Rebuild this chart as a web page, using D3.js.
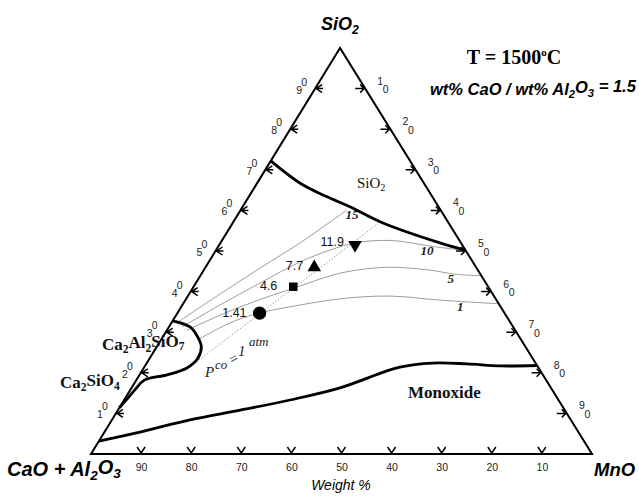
<!DOCTYPE html>
<html>
<head>
<meta charset="utf-8">
<script src="https://cdn.jsdelivr.net/npm/d3@7"></script>
<style>
  body { margin: 0; background: #fff; }
  svg { display: block; }
</style>
</head>
<body>
<svg id="chart" width="639" height="497"></svg>
<script>
// Compositions are wt% pairs [SiO2, MnO]; CaO + Al2O3 makes up the balance.
const gridTicks = [10, 20, 30, 40, 50, 60, 70, 80, 90];

// Liquidus boundaries at 1500 °C
const silicaBoundary = [[72.2, 0], [66.7, 8.6], [63.4, 15.5], [60.9, 21.4], [56.9, 30.0], [52.0, 43.8], [50.2, 49.8]];
const gehleniteBoundary = [[32.8, 0], [31.3, 4.2], [28.8, 7.0], [26.4, 8.9], [23.6, 9.6], [21.2, 8.6], [19.5, 5.5], [18.2, 1.6], [15.8, 0.9], [13.2, 0.4], [11.4, 0]];
const monoxideBoundary = [[3.2, 0], [5.4, 7.1], [8.4, 15.6], [10.8, 24.4], [13.3, 33.1], [16.3, 41.6], [21.4, 51.0], [22.4, 57.1], [22.2, 64.0], [21.7, 70.9], [21.8, 78.2]];

// Iso-lines (labels 15, 10, 5, 1)
const iso15 = [[32.3, 1.1], [38.9, 5.8], [45.8, 11.0], [52.0, 15.9], [57.1, 19.3], [60.1, 21.2]];
const iso10 = [[31.3, 2.6], [36.7, 7.5], [42.1, 12.8], [47.3, 18.2], [50.2, 22.7], [52.0, 26.9], [52.6, 33.6], [51.1, 42.9], [50.1, 49.9]];
const iso5 = [[30.5, 4.0], [35.2, 10.2], [38.9, 16.4], [41.4, 21.2], [44.1, 26.4], [45.4, 31.1], [46.0, 36.8], [45.3, 45.1], [44.3, 50.6], [43.9, 56.1]];
const iso1 = [[28.3, 7.5], [32.3, 11.7], [34.7, 16.3], [36.7, 23.5], [38.3, 31.3], [38.9, 40.3], [37.9, 50.8], [37.0, 63.0]];
const isoLabels = ["15", "10", "5", "1"];
const isoLabelAt = [[57.9, 23.3], [49.0, 42.7], [42.1, 50.9], [35.2, 56.2]];

// P_CO = 1 atm line
const pcoLine = [[20.8, 8.7], [57.1, 29.3]];

// Measured points
const sampleLabels = ["1.41", "4.6", "7.7", "11.9"];
const sampleSiO2 = [34.7, 41.2, 46.0, 51.5];
const sampleMnO = [16.4, 19.9, 21.7, 27.1];
const sampleShapes = ["circle", "square", "up", "down"];

// Triangle frame
const A = { x: 340, y: 48 }, L = { x: 91, y: 454 }, R = { x: 592, y: 454 };
const ySi = d3.scaleLinear().domain([0, 100]).range([L.y, A.y]);
const xMn = d3.scaleLinear().domain([0, 100]).range([L.x, R.x]);
const xSkew = d3.scaleLinear().domain([0, 100]).range([0, A.x - L.x]);
const proj = (si, mn) => [xMn(mn) + xSkew(si), ySi(si)];

const svg = d3.select("#chart");
const sans = "'Liberation Sans', Arial, sans-serif";
const serif = "'Liberation Serif', 'Times New Roman', serif";

const curve = d3.line()
  .x(d => proj(d[0], d[1])[0])
  .y(d => proj(d[0], d[1])[1])
  .curve(d3.curveCatmullRom.alpha(0.5));

// iso-lines
svg.append("g")
  .selectAll("path")
  .data([iso15, iso10, iso5, iso1])
  .join("path")
  .attr("d", curve)
  .attr("fill", "none")
  .attr("stroke", "#8a8a8a")
  .attr("stroke-width", 0.85);

svg.append("path")
  .attr("d", d3.line().x(d => proj(d[0], d[1])[0]).y(d => proj(d[0], d[1])[1])(pcoLine))
  .attr("fill", "none")
  .attr("stroke", "#777")
  .attr("stroke-width", 0.9)
  .attr("stroke-dasharray", "1.2,2");

// iso-line labels
svg.append("g")
  .selectAll("text")
  .data(isoLabels)
  .join("text")
  .attr("x", (d, i) => proj(isoLabelAt[i][0], isoLabelAt[i][1])[0])
  .attr("y", (d, i) => proj(isoLabelAt[i][0], isoLabelAt[i][1])[1])
  .attr("text-anchor", "middle")
  .attr("font-family", serif)
  .attr("font-style", "italic")
  .attr("font-weight", "bold")
  .attr("font-size", 13)
  .attr("fill", "#222")
  .text(d => d);

// phase boundaries
svg.append("g")
  .selectAll("path")
  .data([silicaBoundary, gehleniteBoundary, monoxideBoundary])
  .join("path")
  .attr("d", curve)
  .attr("fill", "none")
  .attr("stroke", "#000")
  .attr("stroke-width", 2.8)
  .attr("stroke-linejoin", "round");

// triangle
svg.append("path")
  .attr("d", d3.line()([proj(100, 0), proj(0, 0), proj(0, 100)]) + "Z")
  .attr("fill", "none")
  .attr("stroke", "#000")
  .attr("stroke-width", 2);

// tick arrows and labels
const tickG = svg.append("g").attr("stroke", "#000").attr("stroke-width", 1.5).attr("fill", "none");
gridTicks.forEach(t => {
  const [lx, ly] = proj(t, 0);
  tickG.append("path").attr("d", `M${lx + 7},${ly - 4}L${lx + 1},${ly}L${lx + 7},${ly + 4}M${lx + 1},${ly}L${lx + 8},${ly}`);
  const [rx, ry] = proj(100 - t, t);
  tickG.append("path").attr("d", `M${rx - 10},${ry}L${rx - 1},${ry}M${rx - 5},${ry - 4}L${rx - 1},${ry}L${rx - 5},${ry + 4}`);
  const [bx, by] = proj(0, 100 - t);
  tickG.append("path").attr("d", `M${bx - 4},${by - 7}L${bx},${by - 1}L${bx + 4},${by - 7}`);
});

const labG = svg.append("g").attr("font-family", sans).attr("font-size", 10.5).attr("fill", "#222").attr("text-anchor", "middle");
gridTicks.forEach(t => {
  const d = String(t / 10);
  const [lx, ly] = proj(t, 0);
  labG.append("text").attr("x", lx - 16).attr("y", ly + 5).text(d);
  labG.append("text").attr("x", lx - 11).attr("y", ly - 3).text("0");
  const [rx, ry] = proj(100 - t, t);
  labG.append("text").attr("x", rx + 15).attr("y", ry - 4).text(d);
  labG.append("text").attr("x", rx + 20.5).attr("y", ry + 4.5).text("0");
});

// bottom axis labels (CaO + Al2O3 wt%)
const xCa = d3.scaleLinear().domain([100, 0]).range([L.x, R.x]);
svg.append("g")
  .attr("transform", `translate(0,${L.y + 6})`)
  .call(d3.axisBottom(xCa).tickValues(gridTicks).tickSize(0).tickPadding(4).tickFormat(d3.format("d")))
  .call(g => g.select(".domain").remove())
  .call(g => g.selectAll("text").attr("font-family", sans).attr("font-size", 10.5).attr("fill", "#222"));

// measured points
const symType = { circle: d3.symbolCircle, square: d3.symbolSquare, up: d3.symbolTriangle, down: d3.symbolTriangle };
const symSize = { circle: 140, square: 72, up: 80, down: 80 };
const pts = svg.append("g");
sampleLabels.forEach((lab, i) => {
  const [x, y] = proj(sampleSiO2[i], sampleMnO[i]);
  const sh = sampleShapes[i];
  pts.append("path")
    .attr("d", d3.symbol().type(symType[sh]).size(symSize[sh])())
    .attr("transform", `translate(${x},${y})` + (sh === "down" ? " rotate(180)" : ""))
    .attr("fill", "#000");
});
const labelOffset = [[-13, 4], [-16, 3], [-11, 3], [-11, 1]];
pts.selectAll("text")
  .data(sampleLabels)
  .join("text")
  .attr("x", (d, i) => proj(sampleSiO2[i], sampleMnO[i])[0] + labelOffset[i][0])
  .attr("y", (d, i) => proj(sampleSiO2[i], sampleMnO[i])[1] + labelOffset[i][1])
  .attr("text-anchor", "end")
  .attr("font-family", sans)
  .attr("font-size", 12.5)
  .attr("fill", "#111")
  .text(d => d);

// P_CO = 1 atm
const pco = svg.append("g").attr("font-family", serif).attr("font-style", "italic").attr("fill", "#222");
pco.append("text").attr("x", 205).attr("y", 377).attr("font-size", 15).text("P");
pco.append("text").attr("x", 215).attr("y", 369).attr("font-size", 13).text("co");
pco.append("text").attr("x", 229).attr("y", 364).attr("font-size", 15).attr("transform", "rotate(-30,233,360)").text("=");
pco.append("text").attr("x", 238).attr("y", 356).attr("font-size", 15).text("1");
pco.append("text").attr("x", 249).attr("y", 346).attr("font-size", 13).text("atm");

// phase field names
function chem(g, x, y, parts, anchor) {
  const t = g.append("text").attr("x", x).attr("y", y).attr("text-anchor", anchor || "start");
  parts.forEach(p => {
    if (p.sub) t.append("tspan").attr("font-size", "0.68em").attr("dy", "0.3em").text(p.sub);
    else t.append("tspan").attr("dy", p.after ? "-0.3em" : 0).text(p.t);
  });
  return t;
}
const fieldG = svg.append("g").attr("font-family", serif).attr("font-weight", "bold").attr("font-size", 17).attr("fill", "#111");
chem(fieldG, 102, 350, [{ t: "Ca" }, { sub: "2" }, { t: "Al", after: 1 }, { sub: "2" }, { t: "SiO", after: 1 }, { sub: "7" }]);
chem(fieldG, 60, 388, [{ t: "Ca" }, { sub: "2" }, { t: "SiO", after: 1 }, { sub: "4" }]);
fieldG.append("text").attr("x", 408).attr("y", 398).text("Monoxide");
const silicaName = svg.append("g").attr("font-family", serif).attr("font-size", 15).attr("fill", "#111");
chem(silicaName, 357, 188, [{ t: "SiO" }, { sub: "2" }]);

// corner titles
const corner = svg.append("g").attr("font-family", sans).attr("font-weight", "bold").attr("font-style", "italic").attr("fill", "#000");
chem(corner.append("g").attr("font-size", 18), 340, 30, [{ t: "SiO" }, { sub: "2" }], "middle");
chem(corner.append("g").attr("font-size", 20), 7, 476, [{ t: "CaO + Al" }, { sub: "2" }, { t: "O", after: 1 }, { sub: "3" }]);
corner.append("text").attr("x", 594).attr("y", 476).attr("font-size", 18.5).text("MnO");

svg.append("text").attr("x", 341).attr("y", 490).attr("text-anchor", "middle")
  .attr("font-family", sans).attr("font-style", "italic").attr("font-size", 14).text("Weight %");

// conditions
const cond = svg.append("text").attr("x", 514).attr("y", 64).attr("text-anchor", "middle")
  .attr("font-family", serif).attr("font-weight", "bold").attr("font-size", 20);
cond.append("tspan").text("T = 1500");
cond.append("tspan").attr("font-size", "0.55em").attr("dy", "-0.75em").text("o");
cond.append("tspan").attr("dy", "0.41em").text("C");

const ratio = svg.append("g").attr("font-family", sans).attr("font-weight", "bold").attr("font-style", "italic").attr("font-size", 16.5);
chem(ratio, 430, 95, [{ t: "wt% CaO / wt% Al" }, { sub: "2" }, { t: "O", after: 1 }, { sub: "3" }, { t: " = 1.5", after: 1 }]);
</script>
</body>
</html>
